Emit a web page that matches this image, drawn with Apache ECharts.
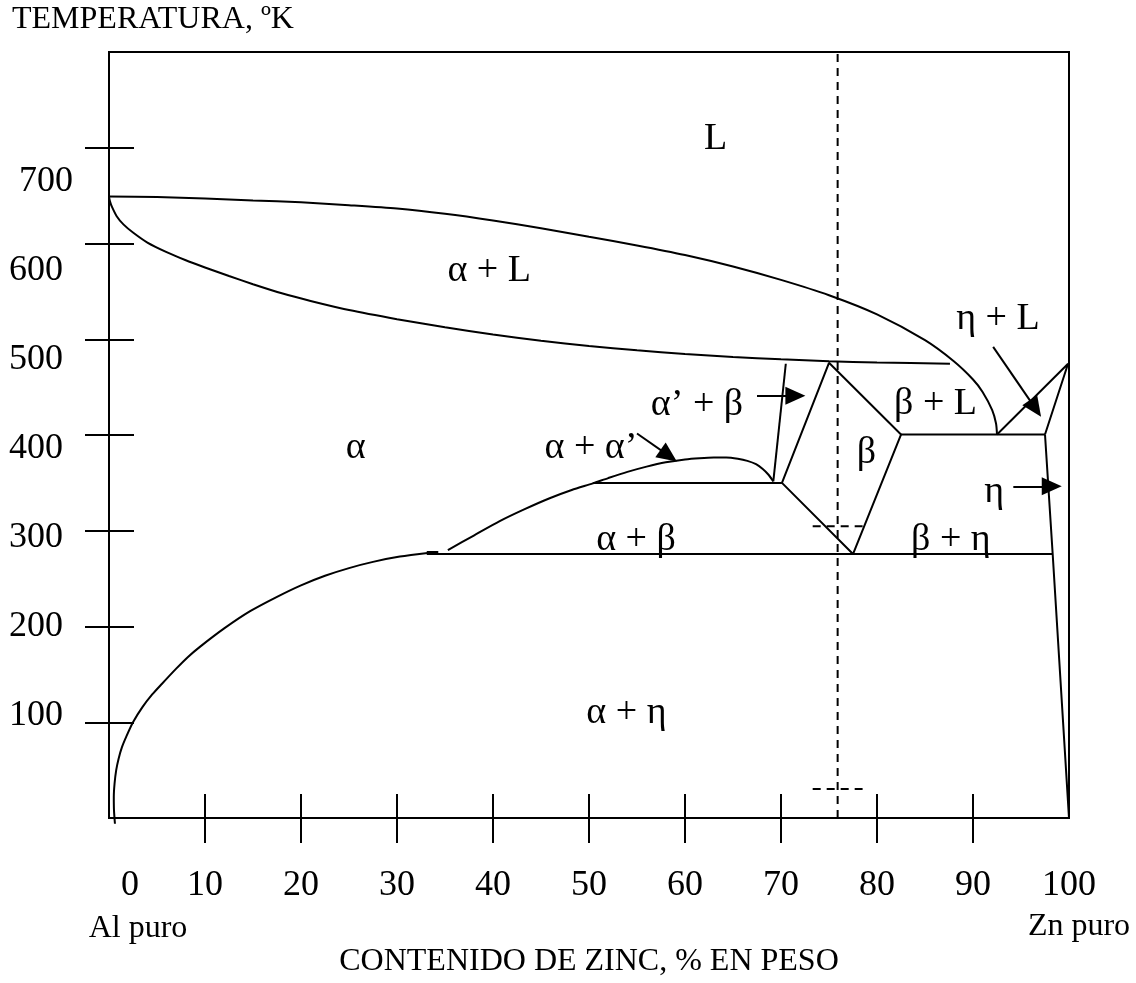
<!DOCTYPE html>
<html><head><meta charset="utf-8">
<script src="https://cdn.jsdelivr.net/npm/echarts@6.0.0/dist/echarts.min.js"></script>
<style>html,body{margin:0;padding:0;background:#fff}#c{width:1136px;height:983px}</style>
</head><body><div id="c"></div>
<script>
// ---- axis ticks / labels ----
const xTickValues = [10, 20, 30, 40, 50, 60, 70, 80, 90];
const xLabelValues = [0, 10, 20, 30, 40, 50, 60, 70, 80, 90, 100];
const yTickValues = [100, 200, 300, 400, 500, 600, 700];
const yLabelValues = [100, 200, 300, 400, 500, 600, 700];

// ---- phase boundaries: [Zn wt%, T (K)] ----
const liquidus = [[0,649],[5,648.5],[10,647],[15,645],[20,643],[25,640],[30,636.5],[35,631],[40,624],[45,616],[50,607],[55,598],[60,588],[65,576],[70,562],[75,546],[80,526],[85,499],[88,477],[90,458],[91,445],[92,426],[92.4,412],[92.5,400.5]];
const solidus = [[0,649],[0.1,644],[0.3,638.5],[0.8,628.5],[1.5,620],[2.5,611.5],[4,601],[6,591],[8,582.5],[10,575],[12.5,566],[15,557.5],[18,548],[21,540],[25,530.5],[30,521],[35,512.5],[40,505],[45,498.5],[50,493],[55,488.5],[60,484.5],[65,481.5],[70,479],[75,477],[80,475.7],[87.6,474.4]];
const solvus = [[0.62,-6],[0.52,8],[0.5,22],[0.58,36],[0.75,50],[1.0,62],[1.35,74],[1.8,85],[2.5,100],[3.5,116],[4.5,129],[5.5,140],[7,156],[8.2,168],[9.5,179],[12,198],[14.7,216],[17.5,231],[20,243],[22.5,253],[25,261],[27.5,267.5],[30.3,273],[33.4,277]];
const solvusStub = [[33.1,277.8],[34.3,277.8]];
const alphaDome = [[35.3,279.8],[38,295],[40.7,310],[43.3,322.5],[45.9,333.9],[48.2,342.5],[50.4,349.5],[52,355],[54,361.5],[56,367],[58,371.5],[60,374.5],[61.5,375.8],[63,376.5],[64.3,376.5],[65.5,375.2],[66.5,373],[67.4,369.5],[68.1,364.5],[68.7,358.5],[69.2,351.6]];
const monotectoid = [[50.4,350],[70.1,350]];
const alphaPrimeBeta = [[70.5,474.4],[69.2,351.6]];
const betaPhase = [[70.1,350],[75.0,475.4],[82.5,400.5],[77.5,275.7],[70.1,350]];
const eutectic = [[82.5,400.5],[97.5,400.5]];
const etaLiquidus = [[92.5,400.5],[99.9,474.4],[97.5,400.5]];
const etaSolvus = [[97.5,400.5],[98.3,275.7],[100,0]];
const eutectoid = [[33.1,275.7],[98.3,275.7]];
const alloyLine = [[75.9,0],[75.9,800]];
const markTop = [[73.3,304.8],[78.5,304.8]];
const markBottom = [[73.3,30.2],[78.5,30.2]];

// ---- region labels ----
const regionNames = ['L', 'α + L', 'η + L', 'α’ + β', 'β + L', 'α', 'α + α’', 'β', 'η', 'α + β', 'β + η', 'α + η'];
const regionX = [63.2, 39.6, 92.6, 61.25, 86.1, 25.7, 50.2, 78.9, 92.2, 54.9, 87.7, 53.9];
const regionY = [709, 571, 521.2, 431.7, 432.8, 386, 386, 380.7, 340.2, 290.2, 290.2, 109.2];

// ---- pointer arrows ----
const arrowStart = [[67.5,441.1],[55.0,401.6],[92.1,492.1],[94.2,346.4]];
const arrowEnd = [[71.5,441.1],[58.3,378.4],[96.5,427.8],[98.2,346.4]];

const FONT = '"Liberation Serif", "Times New Roman", serif';
const BLACK = '#000';

function curve(data, smooth, extra) {
  return Object.assign({
    type: 'line', data: data, xAxisIndex: 0, yAxisIndex: 0,
    symbol: 'none', showSymbol: false, smooth: smooth || false,
    lineStyle: { color: BLACK, width: 2 }, silent: true, z: 3
  }, extra || {});
}
const dashed = { lineStyle: { color: BLACK, width: 2, type: [8, 6] } };

const chart = echarts.init(document.getElementById('c'), null, { renderer: 'canvas' });
chart.setOption({
  animation: false,
  backgroundColor: '#fff',
  title: {
    text: 'TEMPERATURA, ºK', left: 12, top: 4, padding: 0,
    textStyle: { fontSize: 32, fontWeight: 'normal', fontFamily: FONT, color: BLACK }
  },
  grid: { left: 109, right: 67, top: 52, bottom: 162, show: true, borderColor: BLACK, borderWidth: 2, backgroundColor: 'transparent' },
  graphic: [
    { type: 'text', x: 138, y: 929, style: { text: 'Al puro', font: '32px ' + FONT, fill: BLACK, align: 'center', verticalAlign: 'middle' } },
    { type: 'text', x: 1079, y: 927, style: { text: 'Zn puro', font: '32px ' + FONT, fill: BLACK, align: 'center', verticalAlign: 'middle' } }
  ],
  xAxis: [
    {
      type: 'value', min: 0, max: 100, interval: 10, position: 'bottom',
      name: 'CONTENIDO DE ZINC, % EN PESO', nameLocation: 'middle', nameGap: 128,
      nameTextStyle: { fontSize: 32, fontFamily: FONT, color: BLACK },
      axisLine: { show: true, lineStyle: { color: BLACK, width: 2 } },
      axisTick: { show: true, customValues: xTickValues, inside: false, length: 25, lineStyle: { color: BLACK, width: 2 } },
      axisLabel: {
        customValues: xLabelValues, fontSize: 36, fontFamily: FONT, color: BLACK, margin: 50,
        formatter: v => v === 0 ? '{z|0}' : String(v),
        rich: { z: { fontSize: 36, fontFamily: FONT, color: BLACK, padding: [0, 0, 0, 42] } }
      },
      splitLine: { show: false }
    },
    {
      type: 'value', min: 0, max: 100, interval: 10, position: 'bottom',
      axisLine: { show: false },
      axisTick: { show: true, customValues: xTickValues, inside: true, length: 24, lineStyle: { color: BLACK, width: 2 } },
      axisLabel: { show: false }, splitLine: { show: false }
    }
  ],
  yAxis: [
    {
      type: 'value', min: 0, max: 800, interval: 100, position: 'left',
      axisLine: { show: true, lineStyle: { color: BLACK, width: 2 } },
      axisTick: { show: true, customValues: yTickValues, inside: false, length: 24, lineStyle: { color: BLACK, width: 2 } },
      axisLabel: { show: false }, splitLine: { show: false }
    },
    {
      type: 'value', min: 0, max: 800, interval: 100, position: 'left',
      axisLine: { show: false },
      axisTick: { show: true, customValues: yTickValues, inside: true, length: 25, lineStyle: { color: BLACK, width: 2 } },
      axisLabel: { show: false }, splitLine: { show: false }
    },
    {
      type: 'value', min: -15.5, max: 845.5, position: 'left',
      axisLine: { show: false }, axisTick: { show: false }, splitLine: { show: false },
      axisLabel: {
        customValues: yLabelValues, fontSize: 36, fontFamily: FONT, color: BLACK, margin: 36,
        formatter: v => v === 700 ? '700' : '{p|' + v + '}',
        rich: { p: { fontSize: 36, fontFamily: FONT, color: BLACK, padding: [0, 10, 0, 0] } }
      }
    }
  ],
  series: [
    curve(liquidus, 0.25),
    curve(solidus, 0.25),
    curve(solvus, 0.25, { clip: false }),
    curve(solvusStub),
    curve(alphaDome, 0.25),
    curve(monotectoid),
    curve(alphaPrimeBeta),
    curve(betaPhase),
    curve(eutectic),
    curve(etaLiquidus),
    curve(etaSolvus),
    curve(eutectoid),
    curve(alloyLine, false, dashed),
    curve(markTop, false, dashed),
    curve(markBottom, false, dashed),
    {
      type: 'line', data: [], symbol: 'none', silent: true,
      markLine: {
        silent: true, animation: false,
        symbol: ['none', 'triangle'], symbolSize: [18, 20],
        lineStyle: { color: BLACK, width: 2, type: 'solid' },
        itemStyle: { color: BLACK },
        label: { show: false },
        emphasis: { disabled: true },
        data: arrowStart.map((s, i) => [{ coord: s }, { coord: arrowEnd[i] }])
      }
    },
    {
      type: 'scatter', silent: true, symbolSize: 0.1, itemStyle: { color: '#fff' },
      data: regionNames.map((n, i) => ({ name: n, value: [regionX[i], regionY[i]] })),
      label: {
        show: true, position: 'inside', formatter: '{b}', fontSize: 38, fontFamily: FONT,
        color: BLACK, textBorderWidth: 0, textBorderColor: 'transparent', textShadowBlur: 0, opacity: 1
      }
    }
  ]
});
</script>
</body></html>
